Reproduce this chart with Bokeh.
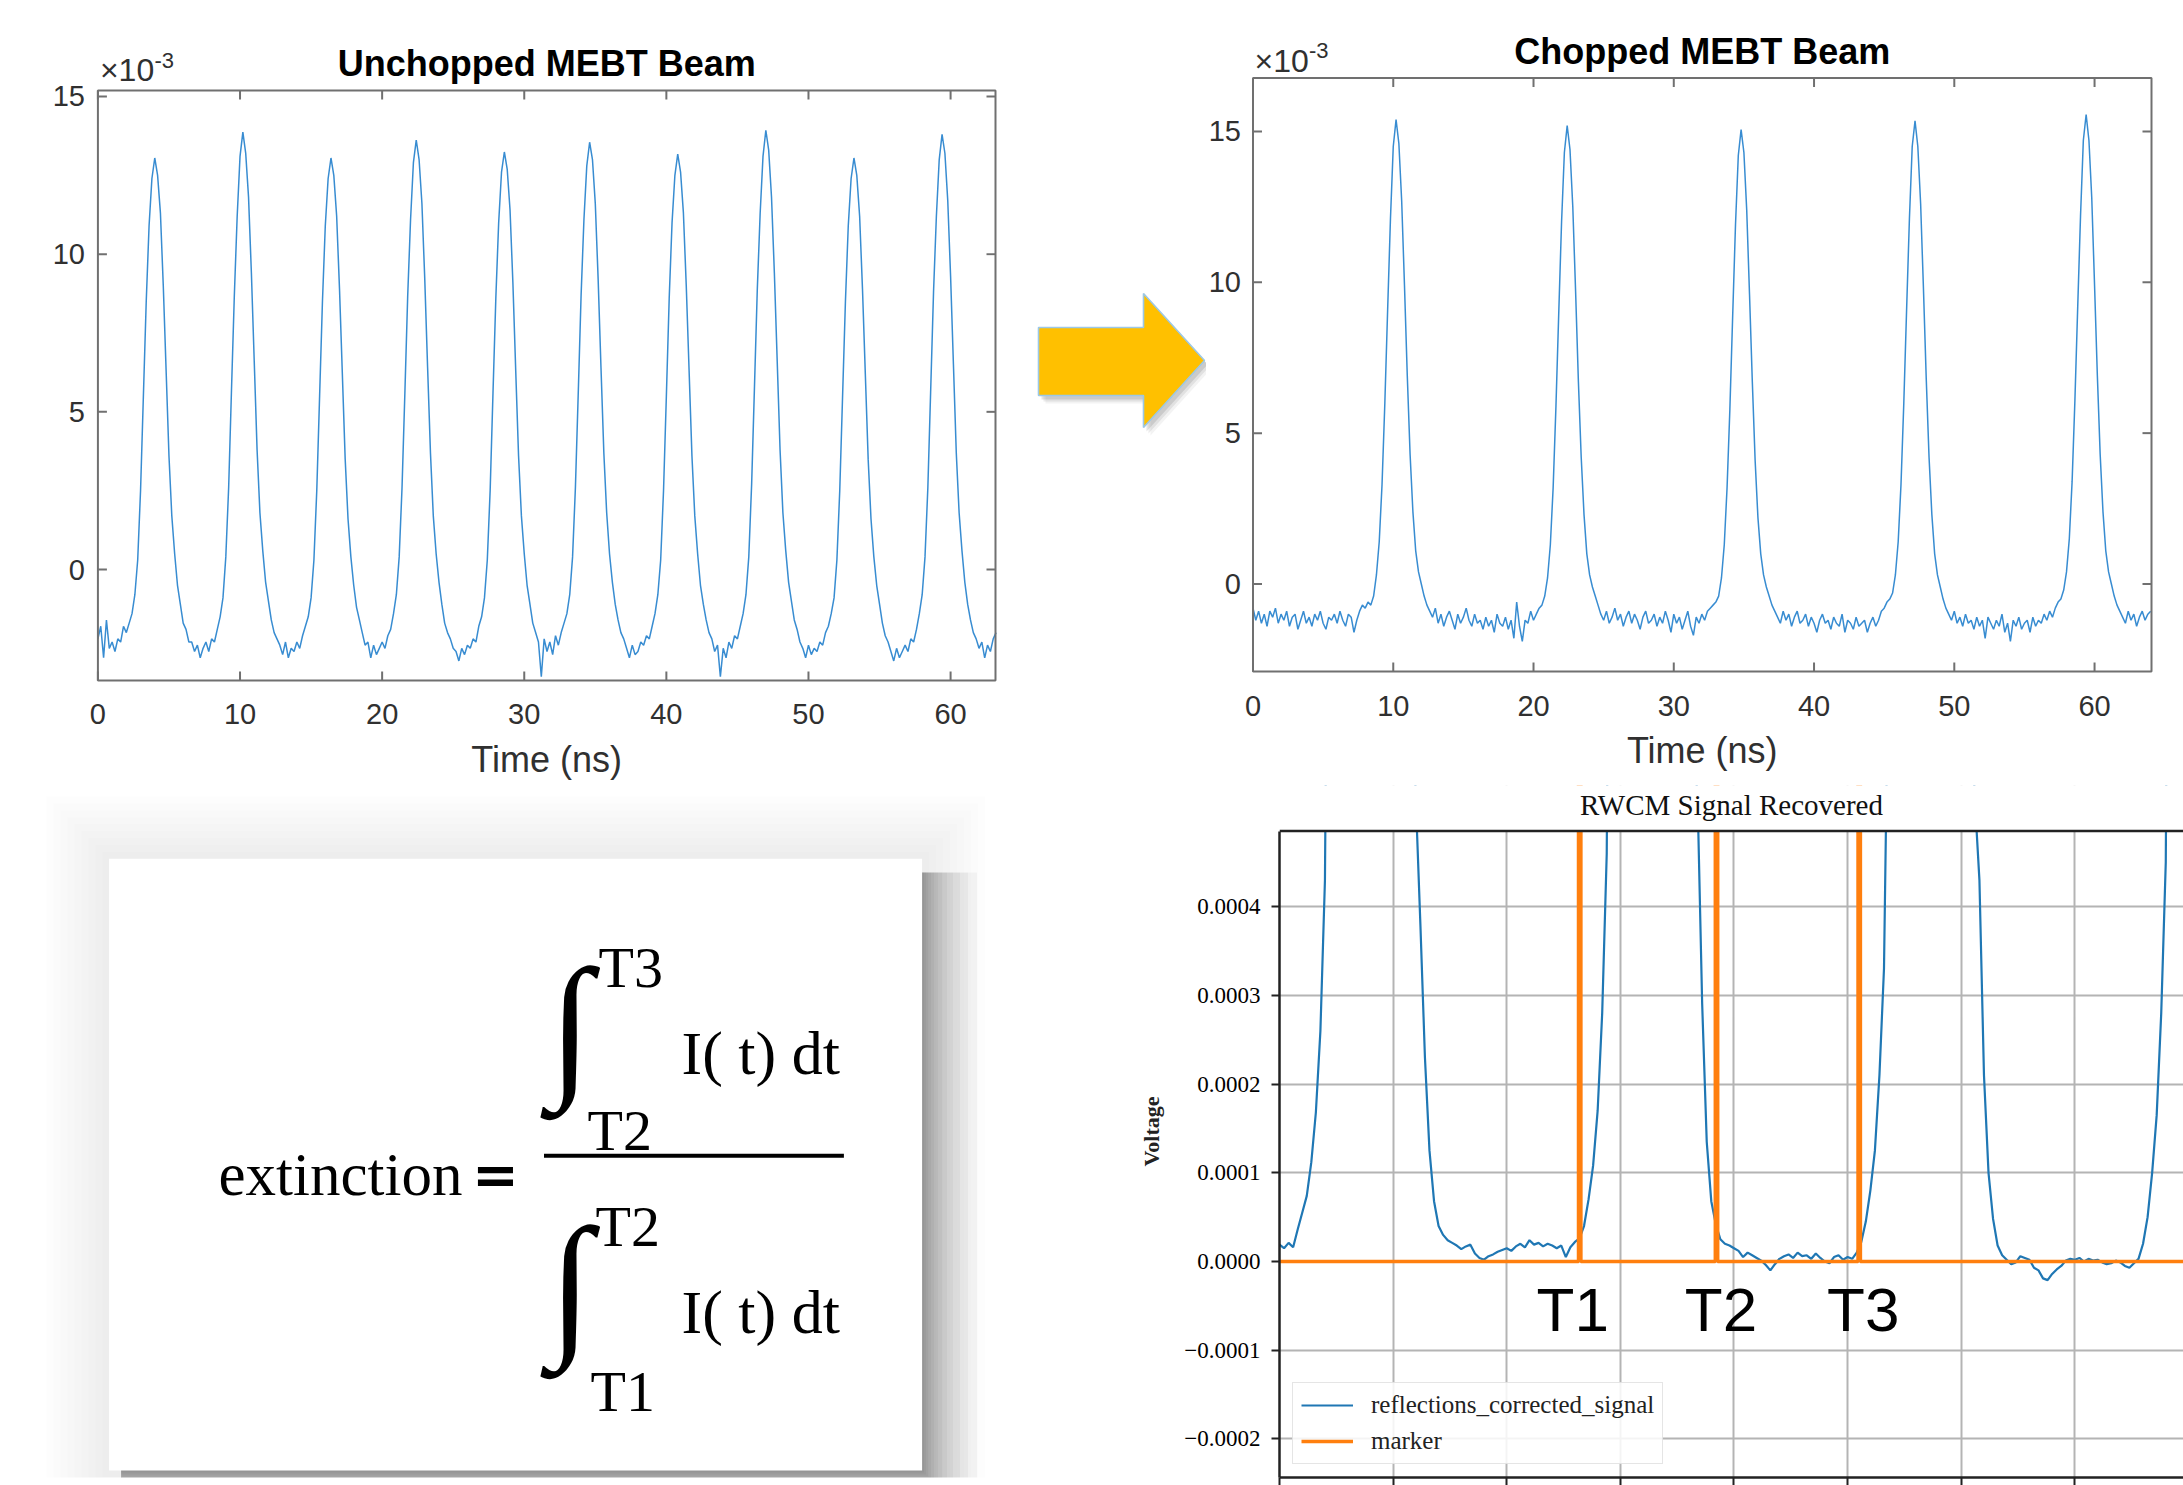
from bokeh.plotting import figure
from bokeh.layouts import row, column
from bokeh.models import (Range1d, FixedTicker, Label, Legend,
                          LegendItem, CustomJSTickFormatter, Span)
from bokeh.embed import file_html
from bokeh.resources import INLINE
from bokeh.core.properties import value

# ------------------------------------------------------------------ texts
TL_TITLE = "Unchopped MEBT Beam"
TR_TITLE = "Chopped MEBT Beam"
BR_TITLE = "RWCM Signal Recovered"
X_LABEL = "Time (ns)"
BR_YLABEL = "Voltage"
SCALE_BASE = "\u00d710"
SCALE_EXP = "-3"
LEGEND_LABELS = ["reflections_corrected_signal", "marker"]

# ------------------------------------------------------------------ data
tl_xticks = [0, 10, 20, 30, 40, 50, 60]
tl_yticks = [0, 5, 10, 15]
tr_xticks = [0, 10, 20, 30, 40, 50, 60]
tr_yticks = [0, 5, 10, 15]
br_xticks = [0.0, 2.5, 5.0, 7.5, 10.0, 12.5, 15.0, 17.5]
br_yticks = [-0.0002, -0.0001, 0.0, 0.0001, 0.0002, 0.0003, 0.0004]

scope_dt_ns = 0.2   # sample spacing of the two MATLAB traces

# unchopped beam, values in units of 1e-3 (as the axis shows)
tl_signal_e3 = [
    -2.2, -1.8, -2.8, -1.6, -2.5, -2.3, -2.6, -2.2, -2.3, -1.8,
    -2.0, -1.7, -1.4, -0.8, 0.3, 2.5, 5.5, 8.5, 10.9, 12.4,
    13.05, 12.5, 11.3, 9.0, 6.3, 3.6, 1.7, 0.5, -0.5, -1.1,
    -1.7, -1.9, -2.3, -2.3, -2.6, -2.4, -2.8, -2.5, -2.3, -2.6,
    -2.2, -2.3, -1.9, -1.5, -0.9, 0.4, 2.6, 5.7, 8.7, 11.2,
    13.1, 13.87, 13.2, 11.8, 9.4, 6.6, 3.8, 1.8, 0.6, -0.4,
    -1.0, -1.6, -2.0, -2.2, -2.4, -2.7, -2.3, -2.8, -2.5, -2.6,
    -2.3, -2.5, -2.1, -1.8, -1.5, -0.9, 0.3, 2.5, 5.5, 8.5,
    10.9, 12.4, 13.05, 12.5, 11.2, 8.9, 6.2, 3.5, 1.6, 0.4,
    -0.5, -1.2, -1.6, -2.0, -2.4, -2.3, -2.8, -2.4, -2.7, -2.5,
    -2.3, -2.5, -2.1, -1.9, -1.4, -0.8, 0.4, 2.6, 5.6, 8.7,
    11.1, 12.9, 13.62, 13.0, 11.6, 9.2, 6.4, 3.7, 1.7, 0.5,
    -0.4, -1.1, -1.7, -2.0, -2.2, -2.5, -2.6, -2.9, -2.5, -2.7,
    -2.4, -2.5, -2.2, -2.3, -1.8, -1.5, -0.9, 0.3, 2.5, 5.6,
    8.6, 11.0, 12.6, 13.24, 12.7, 11.4, 9.1, 6.3, 3.6, 1.7,
    0.5, -0.5, -1.1, -1.7, -2.0, -2.3, -3.4, -2.2, -2.6, -2.3,
    -2.7, -2.1, -2.4, -2.0, -1.7, -1.4, -0.8, 0.4, 2.6, 5.6,
    8.7, 11.1, 12.8, 13.55, 13.0, 11.6, 9.2, 6.4, 3.7, 1.8,
    0.5, -0.4, -1.1, -1.6, -2.0, -2.2, -2.5, -2.8, -2.4, -2.7,
    -2.6, -2.3, -2.4, -2.1, -2.2, -1.8, -1.4, -0.8, 0.3, 2.5,
    5.5, 8.6, 11.0, 12.5, 13.17, 12.6, 11.3, 9.0, 6.3, 3.6,
    1.7, 0.5, -0.5, -1.1, -1.6, -2.0, -2.2, -2.6, -2.4, -3.4,
    -2.5, -2.8, -2.3, -2.5, -2.1, -2.2, -1.8, -1.4, -0.8, 0.4,
    2.7, 5.8, 8.9, 11.3, 13.1, 13.93, 13.3, 11.8, 9.4, 6.6,
    3.8, 1.8, 0.6, -0.4, -1.0, -1.6, -1.9, -2.3, -2.5, -2.8,
    -2.4, -2.7, -2.5, -2.6, -2.3, -2.4, -2.0, -1.8, -1.4, -0.9,
    0.3, 2.5, 5.5, 8.5, 10.9, 12.4, 13.05, 12.5, 11.2, 8.9,
    6.2, 3.5, 1.6, 0.4, -0.5, -1.1, -1.7, -2.1, -2.3, -2.6,
    -2.9, -2.5, -2.8, -2.6, -2.4, -2.6, -2.2, -2.3, -1.9, -1.4,
    -0.8, 0.4, 2.6, 5.7, 8.8, 11.2, 13.0, 13.8, 13.2, 11.7,
    9.3, 6.5, 3.7, 1.8, 0.6, -0.4, -1.1, -1.6, -2.0, -2.2,
    -2.5, -2.3, -2.8, -2.4, -2.6, -2.2, -2.0,
]

# chopped beam, values in units of 1e-3
tr_signal_e3 = [
    -0.8, -1.2, -0.9, -1.3, -1.0, -1.4, -0.9, -1.1, -0.8, -1.3,
    -1.0, -1.2, -0.9, -1.4, -1.1, -1.0, -1.5, -1.2, -0.9, -1.3,
    -1.1, -1.4, -1.0, -1.2, -0.9, -1.3, -1.5, -1.1, -1.2, -1.0,
    -1.3, -0.9, -1.2, -1.4, -1.0, -1.1, -1.6, -1.2, -0.9, -0.7,
    -0.8, -0.6, -0.7, -0.4, 0.3, 1.4, 3.3, 6.0, 9.1, 12.1,
    14.5, 15.39, 14.6, 12.7, 9.9, 6.9, 4.3, 2.4, 1.1, 0.4,
    0.0, -0.4, -0.7, -0.9, -1.1, -0.8, -1.3, -1.0, -1.4, -1.1,
    -0.9, -1.2, -1.5, -1.0, -1.3, -1.1, -0.8, -1.2, -1.4, -1.0,
    -1.3, -1.2, -1.5, -1.1, -1.4, -1.2, -1.6, -1.0, -1.3, -1.4,
    -1.1, -1.5, -1.2, -1.8, -0.6, -1.4, -1.9, -1.2, -1.3, -0.9,
    -1.2, -1.0, -0.8, -0.7, -0.4, 0.2, 1.3, 3.2, 5.9, 9.0,
    12.0, 14.3, 15.19, 14.4, 12.5, 9.7, 6.7, 4.2, 2.3, 1.0,
    0.3, -0.1, -0.4, -0.7, -1.0, -1.2, -0.9, -1.3, -1.1, -0.8,
    -1.2, -1.0, -1.4, -1.1, -0.9, -1.3, -1.0, -1.2, -1.5, -1.1,
    -0.9, -1.3, -1.2, -1.0, -1.4, -1.1, -1.3, -0.9, -1.2, -1.6,
    -1.0, -1.3, -1.1, -1.5, -1.2, -0.9, -1.4, -1.7, -1.1, -1.3,
    -1.0, -1.2, -0.9, -0.8, -0.7, -0.6, -0.4, 0.2, 1.3, 3.2,
    5.8, 8.9, 11.9, 14.2, 15.06, 14.3, 12.4, 9.6, 6.7, 4.1,
    2.2, 1.0, 0.3, -0.1, -0.4, -0.7, -0.9, -1.1, -1.3, -0.9,
    -1.2, -1.0, -1.4, -1.1, -0.9, -1.3, -1.2, -1.0, -1.4, -1.1,
    -1.3, -1.6, -1.2, -1.0, -1.3, -1.2, -1.5, -1.1, -1.3, -1.4,
    -1.0, -1.6, -1.2, -1.3, -1.5, -1.1, -1.4, -1.3, -1.2, -1.6,
    -1.3, -1.1, -1.4, -1.2, -0.9, -0.8, -0.6, -0.5, -0.3, 0.3,
    1.4, 3.3, 6.0, 9.1, 12.1, 14.5, 15.35, 14.5, 12.6, 9.8,
    6.8, 4.2, 2.3, 1.0, 0.3, -0.1, -0.5, -0.8, -1.0, -1.2,
    -0.9, -1.3, -1.1, -1.4, -1.0, -1.3, -1.2, -1.5, -1.1, -1.4,
    -1.2, -1.8, -1.1, -1.3, -1.5, -1.2, -1.4, -1.0, -1.6, -1.3,
    -1.9, -1.2, -1.4, -1.1, -1.5, -1.3, -1.2, -1.6, -1.1, -1.4,
    -1.2, -1.3, -1.0, -1.2, -0.9, -1.1, -0.8, -0.6, -0.5, -0.2,
    0.4, 1.5, 3.4, 6.1, 9.2, 12.2, 14.7, 15.56, 14.7, 12.8,
    9.9, 6.9, 4.3, 2.4, 1.1, 0.4, 0.0, -0.4, -0.7, -0.9,
    -1.1, -1.3, -0.9, -1.2, -1.0, -1.4, -1.1, -0.9, -1.2, -1.0, -0.9,
]

br_dt_ns = 0.1
# recovered RWCM signal in microvolts (peaks run far off the top of the axes)
br_signal_uV = [
    19, 15, 21, 16, 36, 55, 74, 112, 168, 260,
    430, 1100, 2400, 3600, 4600, 5400, 5900, 6200, 6300, 6300,
    6200, 5900, 5400, 4700, 3900, 3000, 2200, 1500, 1000, 700,
    520, 380, 230, 125, 68, 40, 30, 24, 21, 18,
    14, 17, 19, 9, 4, 2, 6, 8, 11, 13,
    15, 12, 17, 20, 16, 24, 19, 21, 17, 20,
    18, 15, 18, 5, 16, 22, 26, 40, 70, 108,
    170, 280, 460, 1200, 2600, 3800, 4800, 5500, 6000, 6300,
    6400, 6300, 6000, 5500, 4800, 4000, 3100, 2300, 1600, 1100,
    800, 600, 520, 290, 135, 68, 42, 25, 20, 18,
    15, 12, 5, 10, 7, 4, 1, -4, -10, -3,
    3, 6, 8, 4, 10, 6, 7, 3, 9, 4,
    0, -2, 5, 7, 2, 5, 3, 10, 22, 45,
    80, 125, 210, 330, 700, 1900, 3200, 4300, 5200, 5800,
    6200, 6400, 6400, 6200, 5800, 5200, 4400, 3500, 2600, 1800,
    1200, 850, 650, 520, 430, 210, 100, 48, 18, 7,
    2, -3, -1, 6, 4, 2, -7, -10, -19, -21,
    -14, -9, -5, 1, 3, 2, 4, 0, 3, 1,
    2, -1, -3, -2, 1, -1, -5, -7, -2, 3,
    20, 50, 100, 165, 280, 450, 1300, 2800, 5200, 6100,
]

# marker trace (volts): zero line with three narrow spikes at T1, T2, T3
marker_t_ns = [0.0, 6.58, 6.58, 6.63, 6.63, 9.59, 9.59, 9.64, 9.64,
               12.73, 12.73, 12.78, 12.78, 19.9]
marker_v = [0.0, 0.0, 0.01, 0.01, 0.0, 0.0, 0.01, 0.01, 0.0,
            0.0, 0.01, 0.01, 0.0, 0.0]
marker_names = ["T1", "T2", "T3"]
marker_times_ns = [6.605, 9.615, 12.755]

tl_time = [round(i * scope_dt_ns, 3) for i in range(len(tl_signal_e3))]
tr_time = [round(i * scope_dt_ns, 3) for i in range(len(tr_signal_e3))]
br_time = [round(i * br_dt_ns, 3) for i in range(len(br_signal_uV))]
br_signal = [v * 1e-6 for v in br_signal_uV]

# ------------------------------------------------------------------ styles
AXIS_GRAY = "#707070"
TEXT_GRAY = "#303030"
MBLUE = "#2280cc"
SANS = "Liberation Sans"
SERIF = "Liberation Serif"


def new_fig(w, h, xr, yr, **kw):
    return figure(width=w, height=h, x_range=xr, y_range=yr, title_location=None,
                  toolbar_location=None, output_backend="svg", **kw)


def lab(p, x, y, text, dx=0, dy=0, size="29px", font=SANS, align="center",
        color=TEXT_GRAY, style="normal"):
    p.add_layout(Label(x=x, y=y, x_offset=dx, y_offset=dy, text=text,
                       text_align=align, text_baseline="middle", text_font=font,
                       text_font_size=size, text_font_style=style, text_color=color))


def matlab_panel(p, xticks, yticks, x_end, ylo, yhi, ppx, ppu, cfg):
    """MATLAB-style boxed axes; the frame covers the whole figure."""
    p.grid.visible = False
    p.outline_line_color = None
    p.background_fill_color = "white"
    p.border_fill_color = "white"
    p.quad(left=0, right=x_end, bottom=ylo, top=yhi, fill_color=None,
           line_color=AXIS_GRAY, line_width=2)
    tx = 9 / ppu
    ty = 9 / ppx
    n, m = len(xticks), len(yticks)
    p.segment(x0=xticks * 2, x1=xticks * 2,
              y0=[yhi] * n + [ylo] * n, y1=[yhi - tx] * n + [ylo + tx] * n,
              line_color=AXIS_GRAY, line_width=2)
    p.segment(x0=[0] * m + [x_end] * m, x1=[ty] * m + [x_end - ty] * m,
              y0=yticks * 2, y1=yticks * 2, line_color=AXIS_GRAY, line_width=2)
    for t in xticks:
        lab(p, t, ylo, str(t), dy=cfg["tick_dy"])
    for t in yticks:
        lab(p, 0, t, str(t), dx=cfg["ytick_dx"], align="right")
    lab(p, x_end / 2, ylo, X_LABEL, dy=cfg["xlabel_dy"], size="36px")
    lab(p, x_end / 2, yhi, cfg["title"], dy=cfg["title_dy"], size="36px",
        color="black", style="bold")
    lab(p, 0, yhi, SCALE_BASE, dx=cfg["base_dx"], dy=cfg["base_dy"], size="32px",
        align="left")
    lab(p, 0, yhi, SCALE_EXP, dx=cfg["exp_dx"], dy=cfg["exp_dy"], size="22px",
        align="left")


# ------------------------------------------------------------------ top-left
# axes box: x 0..63.16 ns, y -3.52..15.19 (x1e-3); 14.21 px/ns, 31.534 px/unit
TL_X_END, TL_YLO, TL_YHI, TL_PPX, TL_PPU = 63.16, -3.52, 15.19, 14.21, 31.534
p_tl = new_fig(1010, 785,
               Range1d(-97.4 / TL_PPX, TL_X_END + 15 / TL_PPX),
               Range1d(TL_YLO - 105 / TL_PPU, TL_YHI + 90 / TL_PPU),
               min_border=0, x_axis_location=None, y_axis_location=None)
p_tl.line(tl_time, tl_signal_e3, line_color=MBLUE, line_width=1.5, line_alpha=0.9)
matlab_panel(p_tl, tl_xticks, tl_yticks, TL_X_END, TL_YLO, TL_YHI, TL_PPX, TL_PPU,
             dict(title=TL_TITLE, tick_dy=-33, ytick_dx=-13, xlabel_dy=-79,
                  title_dy=27, base_dx=2, base_dy=20, exp_dx=56.5, exp_dy=30))

# ------------------------------------------------------------------ arrow
p_ar = new_fig(196, 785, Range1d(1010, 1206), Range1d(785, 0), min_border=0,
               x_axis_location=None, y_axis_location=None)
p_ar.grid.visible = False
p_ar.outline_line_color = None
arrow_x = [1038, 1143, 1143, 1204, 1143, 1143, 1038]
arrow_y = [327, 327, 293, 360, 427, 395, 395]
for dx, dy, a in ((7, 8, 0.07), (5, 6, 0.11), (3, 4, 0.16)):
    p_ar.patch([v + dx for v in arrow_x], [v + dy for v in arrow_y],
               fill_color="#555555", fill_alpha=a, line_color=None)
p_ar.patch(arrow_x, arrow_y, fill_color="#FFC000", line_color="#9cc8e6", line_width=1.6)

# ------------------------------------------------------------------ top-right
TR_X_END, TR_YLO, TR_YHI, TR_PPX, TR_PPU = 64.06, -2.9, 16.77, 14.026, 30.173
p_tr = new_fig(977, 785,
               Range1d(-46.5 / TR_PPX, TR_X_END + 32 / TR_PPX),
               Range1d(TR_YLO - 114 / TR_PPU, TR_YHI + 77.5 / TR_PPU),
               min_border=0, x_axis_location=None, y_axis_location=None)
p_tr.line(tr_time, tr_signal_e3, line_color=MBLUE, line_width=1.5, line_alpha=0.9)
matlab_panel(p_tr, tr_xticks, tr_yticks, TR_X_END, TR_YLO, TR_YHI, TR_PPX, TR_PPU,
             dict(title=TR_TITLE, tick_dy=-34, ytick_dx=-12, xlabel_dy=-79,
                  title_dy=26, base_dx=1.5, base_dy=17, exp_dx=56, exp_dy=27.5))

# ------------------------------------------------------------------ formula
p_fx = new_fig(1135, 700, Range1d(0, 1135), Range1d(1485, 785), min_border=0,
               x_axis_location=None, y_axis_location=None)
p_fx.grid.visible = False
p_fx.outline_line_color = None
bx0, bx1, by0, by1 = 108.6, 921.6, 859, 1478
# faint glow all round
for k in range(1, 10):
    p_fx.quad(left=bx0 - 7 * k, right=bx1 + 7 * k, top=by0 - 7 * k, bottom=by1 + 7 * k,
              fill_color="black", fill_alpha=0.006, line_color=None)
# soft drop shadow to the right / below (denser near the box edge)
for off in (2, 4, 6, 9, 12, 16, 20, 25, 31, 38, 46, 55):
    p_fx.quad(left=bx0 + 12, right=bx1 + off, top=by0 + 14, bottom=by1 + off,
              fill_color="black", fill_alpha=0.035, line_color=None)
p_fx.quad(left=bx0, right=bx1, top=by0, bottom=by1, fill_color="white", line_color=None)

p_fx.text(x=[218], y=[1178], text=["extinction"], text_font=value(SERIF),
          text_font_size="61px", text_align="left", text_baseline="alphabetic",
          text_color="black")
p_fx.text(x=[495], y=[1178], text=["="], text_font=value("DejaVu Sans"),
          text_font_size="56px", text_font_style="bold", text_align="center",
          text_baseline="alphabetic", text_color="black")
p_fx.segment(x0=[543.5], y0=[1159.5], x1=[843.4], y1=[1159.5], line_color="black",
             line_width=4)
p_fx.text(x=[570, 570], y=[1027, 1289], text=["\u222b", "\u222b"],
          text_font=value(SERIF), text_font_size="158px",
          text_align="center", text_baseline="middle", text_color="black")
p_fx.text(x=[598, 587, 595, 590], y=[969, 1134, 1231, 1398],
          text=["T3", "T2", "T2", "T1"], text_font=value(SERIF),
          text_font_size="58px", text_align="left", text_baseline="alphabetic",
          text_color="black")
p_fx.text(x=[681, 681], y=[1056, 1318], text=["I( t) dt", "I( t) dt"],
          text_font=value(SERIF), text_font_size="62px", text_align="left",
          text_baseline="alphabetic", text_color="black")

# ------------------------------------------------------------------ bottom-right
# pixel mapping: 0 V at y=1261 px, 887000 px per volt; box top at 830.6 px
BR_PPV = 887000.0
BR_X_END = 19.89
BR_YLO = (1261 - 1477) / BR_PPV
BR_BOX_TOP = (1261 - 830.6) / BR_PPV
BR_YHI = (1261 - 785) / BR_PPV
p_br = new_fig(1048, 700, Range1d(0, BR_X_END), Range1d(BR_YLO, BR_YHI),
               min_border_left=144, min_border_right=0, min_border_top=0,
               min_border_bottom=8)
p_br.outline_line_color = None
p_br.background_fill_color = "white"
p_br.border_fill_color = "white"
xa, ya = p_br.xaxis[0], p_br.yaxis[0]
xa.ticker = FixedTicker(ticks=br_xticks)
ya.ticker = FixedTicker(ticks=br_yticks)
ya.bounds = (BR_YLO, BR_BOX_TOP)
ya.formatter = CustomJSTickFormatter(
    code="return (tick < 0 ? '\u2212' : '') + Math.abs(tick).toFixed(4);")
for ax in (xa, ya):
    ax.axis_line_color = "#222222"
    ax.axis_line_width = 2.5
    ax.major_tick_line_color = "#222222"
    ax.major_tick_line_width = 2
    ax.major_tick_in = 0
    ax.major_tick_out = 8
    ax.minor_tick_line_color = None
# x tick labels lie below the visible page edge in the reference: ticks only
xa.major_label_text_font_size = "0px"
xa.major_label_text_color = None
xa.major_label_standoff = 0
ya.major_label_text_font = SERIF
ya.major_label_text_font_size = "23px"
ya.major_label_text_color = "black"
ya.major_label_standoff = 11
ya.axis_label = BR_YLABEL
ya.axis_label_text_font = SERIF
ya.axis_label_text_font_size = "22px"
ya.axis_label_text_font_style = "bold"
ya.axis_label_text_color = "#222222"
ya.axis_label_standoff = 17
p_br.xgrid.ticker = FixedTicker(ticks=br_xticks)
p_br.ygrid.ticker = FixedTicker(ticks=br_yticks)
p_br.grid.grid_line_color = "#b4b4b4"
p_br.grid.grid_line_width = 2

r_sig = p_br.line(br_time, br_signal, line_color="#1f77b4", line_width=2.2)
r_mark = p_br.line(marker_t_ns, marker_v, line_color="#ff7f0e", line_width=3.6)
# blank out everything above the axes box (title strip)
p_br.quad(left=0, right=BR_X_END, bottom=BR_BOX_TOP, top=BR_YHI, fill_color="white",
          line_color=None, level="guide")
p_br.add_layout(Span(location=BR_BOX_TOP, dimension="width", line_color="#222222",
                     line_width=2.5))

legend = Legend(items=[LegendItem(label=LEGEND_LABELS[0], renderers=[r_sig]),
                       LegendItem(label=LEGEND_LABELS[1], renderers=[r_mark])],
                location="bottom_left", margin=13, padding=8, spacing=8,
                glyph_width=52, glyph_height=28, label_height=28, label_standoff=18,
                label_text_font=SERIF, label_text_font_size="25px",
                label_text_color="#222222", border_line_color="#cccccc",
                border_line_width=1.5, background_fill_alpha=0.85)
p_br.add_layout(legend)

for name, tm, dx in zip(marker_names, marker_times_ns, [-7, 4.5, 4]):
    lab(p_br, tm, 0.0, name, dx=dx, dy=-48, size="62px", color="black")
lab(p_br, BR_X_END / 2, BR_BOX_TOP, BR_TITLE, dy=26, size="29px", font=SERIF,
    color="#111111")

layout = column(row(p_tl, p_ar, p_tr), row(p_fx, p_br))
open("out.html", "w").write(file_html(layout, INLINE))
